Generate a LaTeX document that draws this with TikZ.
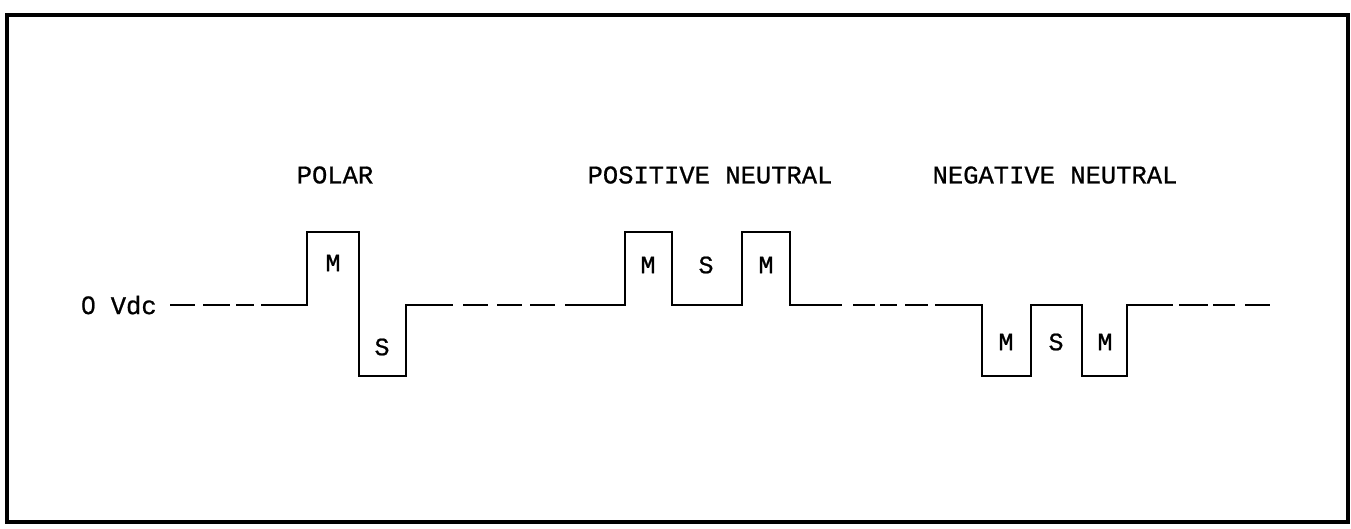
\documentclass[tikz,border=0pt]{standalone}
\usepackage{fontspec}
\newfontfamily\lblfont[FakeBold=0.8]{Liberation Mono}
\newfontfamily\zerofont[FakeBold=0.8]{Liberation Sans}
\begin{document}
\begin{tikzpicture}[x=1pt,y=-1pt,
  wave/.style={line width=2.9pt,line join=miter,line cap=butt},
  frame/.style={line width=3.5pt},
  lbl/.style={inner sep=0pt,font=\lblfont\fontsize{25.5}{30}\selectfont},
  plbl/.style={inner sep=0pt,font=\lblfont\fontsize{25}{29}\selectfont}]
\useasboundingbox (0,0) rectangle (1351,528);
\draw[frame] (7,15) rectangle (1348,522);
% titles
\node[lbl] (tpolar) at (335,175) {POLAR};
\node[lbl] (tpos) at (710,175) {POSITIVE NEUTRAL};
\node[lbl] (tneg) at (1055,175) {NEGATIVE NEUTRAL};
\node[lbl] (zero) at (119,305) {{\zerofont 0} Vdc};
% pulse labels
\node[plbl] (pm) at (333,263) {M};
\node[plbl] (ps) at (382,347) {S};
\node[plbl] (qm1) at (648,265) {M};
\node[plbl] (qs) at (706,265) {S};
\node[plbl] (qm2) at (766,265) {M};
\node[plbl] (nm1) at (1006,342) {M};
\node[plbl] (ns) at (1056,342) {S};
\node[plbl] (nm2) at (1105,342) {M};
% waveform
\draw[wave] (170,305) -- (195,305) (203,305) -- (230,305) (236,305) -- (254,305);
\draw[wave] (261,305) -- (307,305) -- (307,232) -- (359,232) -- (359,376) -- (406,376) -- (406,305) -- (453,305);
\draw[wave] (463,305) -- (488,305) (497,305) -- (522,305) (530,305) -- (555,305);
\draw[wave] (565,305) -- (625,305) -- (625,232) -- (672,232) -- (672,305) -- (742,305) -- (742,232) -- (790,232) -- (790,305) -- (842,305);
\draw[wave] (853,305) -- (875,305) (880,305) -- (897,305) (905,305) -- (928,305);
\draw[wave] (935,305) -- (982,305) -- (982,376) -- (1031,376) -- (1031,305) -- (1082,305) -- (1082,376) -- (1127,376) -- (1127,305) -- (1173,305);
\draw[wave] (1179,305) -- (1208,305) (1213,305) -- (1235,305) (1245,305) -- (1270,305);
\end{tikzpicture}
\end{document}
